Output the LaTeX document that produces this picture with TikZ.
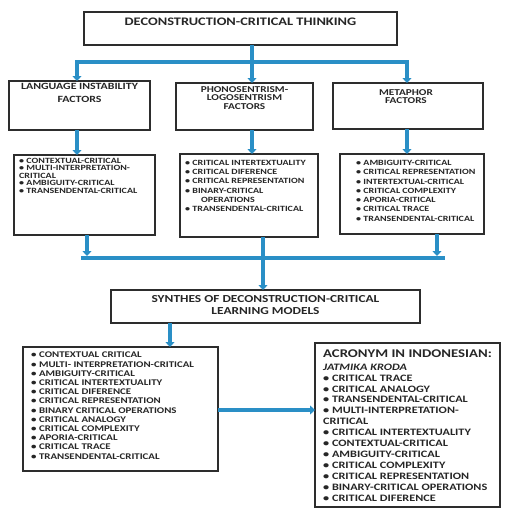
\documentclass[tikz,border=0pt]{standalone}
\usepackage{fontspec}
\setmainfont{Carlito}[FakeStretch=1.25]
\usetikzlibrary{arrows.meta}
\definecolor{cblue}{RGB}{42,143,198}
\definecolor{cbord}{RGB}{45,45,45}
\begin{document}
\begin{tikzpicture}[x=1pt,y=-1pt,
  box/.style={draw=cbord, line width=1.1pt, inner sep=0pt, outer sep=0pt, anchor=north west, fill=white},
  ttl/.style={inner sep=0pt, align=center, anchor=north, text=black!85},
  lst/.style={inner sep=0pt, align=left, anchor=north west, text=black!85},
  conn/.style={draw=cblue, line width=4.5pt},
  arr/.style={conn, -{Triangle[length=5pt,width=9pt]}},
  hv/.style={font=\bfseries\fontsize{11.5}{12}\selectfont},
  md/.style={font=\bfseries\fontsize{9.5}{12.5}\selectfont},
]
\useasboundingbox (0,0) rectangle (504,509);

% ---- boxes ----
\node[box, minimum width=313pt, minimum height=33pt] (top) at (84,12) {};
\node[box, minimum width=141pt, minimum height=49pt] (lang) at (9,81) {};
\node[box, minimum width=137pt, minimum height=47pt] (phon) at (176,83) {};
\node[box, minimum width=150pt, minimum height=46pt] (meta) at (333,83) {};
\node[box, minimum width=141pt, minimum height=80pt] (langl) at (14,155) {};
\node[box, minimum width=138pt, minimum height=83pt] (phonl) at (180,154) {};
\node[box, minimum width=144pt, minimum height=80pt] (metal) at (340,154) {};
\node[box, minimum width=309pt, minimum height=33pt] (synth) at (111,290) {};
\node[box, minimum width=195pt, minimum height=124pt] (bl) at (23,347) {};
\node[box, minimum width=185pt, minimum height=164pt] (br) at (315,343) {};

% ---- texts ----
\node[ttl, hv] (toptxt) at (240.5,17.5) {DECONSTRUCTION-CRITICAL THINKING};
\node[ttl, md] (langtxt) at (79.5,83.5) {LANGUAGE INSTABILITY\\FACTORS};
\node[ttl, font=\bfseries\fontsize{9}{8.8}\selectfont] (phontxt) at (244.5,86) {PHONOSENTRISM-\\LOGOSENTRISM\\FACTORS};
\node[ttl, font=\bfseries\fontsize{9}{8.5}\selectfont] (metatxt) at (406,89) {METAPHOR\\FACTORS};

\node[lst, font=\bfseries\fontsize{8}{7.4}\selectfont] (langltxt) at (19,158) {%
\textbullet{} CONTEXTUAL-CRITICAL\\
\textbullet{} MULTI-INTERPRETATION-\\
CRITICAL\\
\textbullet{} AMBIGUITY-CRITICAL\\
\textbullet{} TRANSENDENTAL-CRITICAL};

\node[lst, font=\bfseries\fontsize{8}{9.2}\selectfont] (phonltxt) at (185,160) {%
\textbullet{} CRITICAL INTERTEXTUALITY\\
\textbullet{} CRITICAL DIFERENCE\\
\textbullet{} CRITICAL REPRESENTATION\\
\textbullet{} BINARY-CRITICAL\\
\hspace*{16pt}OPERATIONS\\
\textbullet{} TRANSENDENTAL-CRITICAL};

\node[lst, font=\bfseries\fontsize{8}{9.3}\selectfont] (metaltxt) at (356,160) {%
\textbullet{} AMBIGUITY-CRITICAL\\
\textbullet{} CRITICAL REPRESENTATION\\
\textbullet{} INTERTEXTUAL-CRITICAL\\
\textbullet{} CRITICAL COMPLEXITY\\
\textbullet{} APORIA-CRITICAL\\
\textbullet{} CRITICAL TRACE\\
\textbullet{} TRANSENDENTAL-CRITICAL};

\node[ttl, font=\bfseries\fontsize{10.7}{11.5}\selectfont] (synthtxt) at (265.5,295.5) {SYNTHES OF DECONSTRUCTION-CRITICAL\\LEARNING MODELS};

\node[lst, font=\bfseries\fontsize{8.7}{9.2}\selectfont] (bltxt) at (31,352) {%
\textbullet{} CONTEXTUAL CRITICAL\\
\textbullet{} MULTI- INTERPRETATION-CRITICAL\\
\textbullet{} AMBIGUITY-CRITICAL\\
\textbullet{} CRITICAL INTERTEXTUALITY\\
\textbullet{} CRITICAL DIFERENCE\\
\textbullet{} CRITICAL REPRESENTATION\\
\textbullet{} BINARY CRITICAL OPERATIONS\\
\textbullet{} CRITICAL ANALOGY\\
\textbullet{} CRITICAL COMPLEXITY\\
\textbullet{} APORIA-CRITICAL\\
\textbullet{} CRITICAL TRACE\\
\textbullet{} TRANSENDENTAL-CRITICAL};

\node[lst, font=\bfseries\fontsize{11.8}{12}\selectfont] (brhead) at (323,350) {ACRONYM IN INDONESIAN:};
\node[lst, font=\bfseries\itshape\fontsize{9.8}{10.9}\selectfont] (brname) at (323,364) {JATMIKA KRODA};
\node[lst, font=\bfseries\fontsize{9.8}{10.9}\selectfont] (brtxt) at (323,374.5) {%
\textbullet{} CRITICAL TRACE\\
\textbullet{} CRITICAL ANALOGY\\
\textbullet{} TRANSENDENTAL-CRITICAL\\
\textbullet{} MULTI-INTERPRETATION-\\
CRITICAL\\
\textbullet{} CRITICAL INTERTEXTUALITY\\
\textbullet{} CONTEXTUAL-CRITICAL\\
\textbullet{} AMBIGUITY-CRITICAL\\
\textbullet{} CRITICAL COMPLEXITY\\
\textbullet{} CRITICAL REPRESENTATION\\
\textbullet{} BINARY-CRITICAL OPERATIONS\\
\textbullet{} CRITICAL DIFERENCE};

% ---- junction coordinates ----
\coordinate (j1) at (252,62);
\coordinate (ja) at (77,62);
\coordinate (jb) at (407,62);
\coordinate (k0) at (263,258);
\coordinate (ka) at (87,258);
\coordinate (kb) at (437,258);
\coordinate (kal) at (81,258);
\coordinate (kbr) at (445,258);
\coordinate (m1) at (170,0);
\coordinate (h1) at (0,410);

% ---- connectors ----
\draw[conn] (top.south -| j1) -- (j1);
\draw[conn] ([xshift=-2pt]ja) -- ([xshift=2pt]jb);
\draw[arr] (ja) -- (lang.north -| ja);
\draw[arr] (j1) -- (phon.north -| j1);
\draw[arr] (jb) -- (meta.north -| jb);

\draw[arr] (lang.south -| ja) -- (langl.north -| ja);
\draw[arr] (phon.south -| j1) -- (phonl.north -| j1);
\draw[arr] (meta.south -| jb) -- (metal.north -| jb);

\draw[conn] (kal) -- (kbr);
\draw[arr] (langl.south -| ka) -- ([yshift=2pt]ka);
\draw[arr] (metal.south -| kb) -- ([yshift=2pt]kb);
\draw[arr] (phonl.south -| k0) -- (synth.north -| k0);

\draw[arr] (synth.south -| m1) -- (bl.north -| m1);
\draw[arr] (bl.east |- h1) -- (br.west |- h1);
\end{tikzpicture}
\end{document}
